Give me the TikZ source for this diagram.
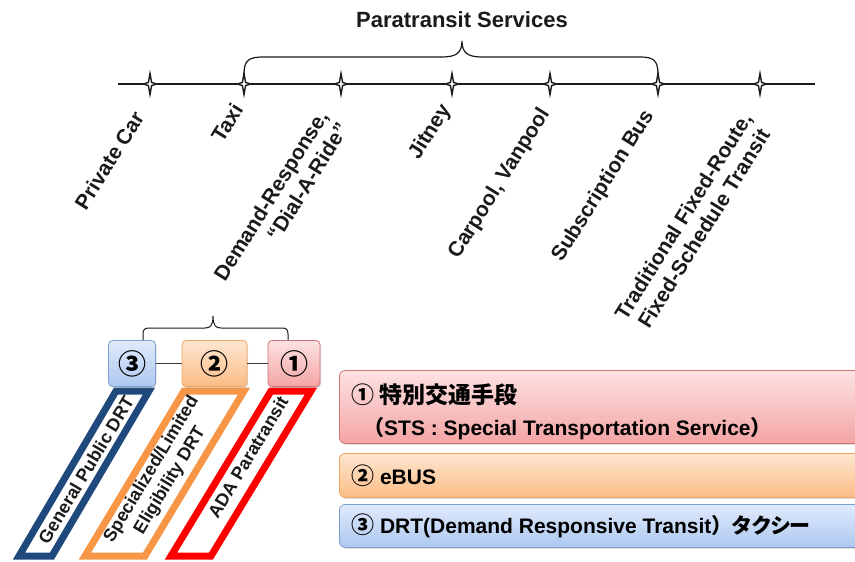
\documentclass[tikz,border=0pt]{standalone}
\usepackage{fontspec}
\setmainfont{Liberation Sans}
\newfontfamily\cjk{Noto Sans CJK JP}
\newfontfamily\cjkp[RawFeature=+palt]{Noto Sans CJK JP}
\usetikzlibrary{shadows,calc}
\definecolor{navy}{HTML}{1F497D}
\definecolor{orng}{HTML}{F79646}
\definecolor{redd}{HTML}{FF0000}
\definecolor{ink}{HTML}{1A1A1A}
\definecolor{pinkT}{HTML}{FDE2E2}
\definecolor{pinkB}{HTML}{F4A4A4}
\definecolor{pinkD}{HTML}{D07275}
\definecolor{oraT}{HTML}{FEE6D0}
\definecolor{oraB}{HTML}{FBBD86}
\definecolor{oraD}{HTML}{F3A45E}
\definecolor{bluT}{HTML}{E0EAFB}
\definecolor{bluB}{HTML}{ADC8F0}
\definecolor{bluD}{HTML}{7E9FD2}
\begin{document}
\begin{tikzpicture}[x=1pt,y=-1pt,
  lbl/.style={font=\bfseries\fontsize{21}{24}\selectfont, rotate=58, anchor=north east, inner sep=0pt, text=ink},
  plbl/.style={font=\bfseries\fontsize{18}{21.5}\selectfont, rotate=59, inner sep=0pt, text=ink, align=center},
  sbox/.style={rounded corners=4pt, minimum height=46pt, inner sep=0pt, line width=0.8pt,
     font=\cjk\bfseries\fontsize{28}{28}\selectfont, drop shadow={opacity=0.25, shadow xshift=1pt, shadow yshift=-1.5pt}},
  rbox/.style={rounded corners=6pt, anchor=north west, minimum width=545pt, inner sep=0pt, line width=0.8pt,
     drop shadow={opacity=0.25, shadow xshift=1pt, shadow yshift=-1.5pt}},
  rtxt/.style={anchor=west, inner sep=0pt, font=\bfseries\fontsize{21}{24}\selectfont, text=black},
  pinkfill/.style={top color=pinkT, bottom color=pinkB, draw=pinkD},
  orafill/.style={top color=oraT, bottom color=oraB, draw=oraD},
  blufill/.style={top color=bluT, bottom color=bluB, draw=bluD},
  para/.style={line width=7pt, line join=miter},
  tline/.style={line width=1.4pt, draw=ink}]
\useasboundingbox (0,0) rectangle (855,562);
\fill[white] (0,0) rectangle (855,562);
\clip (0,0) rectangle (855,562);

% ---------- title and timeline ----------
\node[font=\bfseries\fontsize{22}{26}\selectfont, text=ink] (title) at (462,20) {Paratransit Services};
\coordinate (L) at (118,84);
\coordinate (R) at (815,84);
\draw[tline] (L) -- (R);
\foreach \n/\x in {t1/150,t2/244,t3/341,t4/452,t5/550,t6/658,t7/760}{
  \coordinate (\n) at (\x,84);
  \draw[ink, fill=white, line width=1.4pt, line join=miter] (\n) ++(0,-10.5) -- ++(1.6,8.9) -- ++(5,1.6) -- ++(-5,1.6)
     -- ++(-1.6,8.9) -- ++(-1.6,-8.9) -- ++(-5,-1.6) -- ++(5,-1.6) -- cycle;
}
% brace over paratransit
\coordinate (bt) at (462,41);
\draw[tline, line width=1.2pt] ($(t2)+(0,-10)$) .. controls (244,60) and (249,57) .. (264,57) -- (442,57)
   .. controls (456,57) and (462,53) .. (bt) .. controls (462,53) and (468,57) .. (482,57) -- (640,57)
   .. controls (653,57) and (658,60) .. ($(t6)+(0,-10)$);

% labels
\node[lbl] (l1) at (132,109) {Private Car};
\node[lbl] (l2) at (231,101) {Taxi};
\node[lbl, align=right] (l3) at (316,108) {Demand-Response,\\“Dial-A-Ride”};
\node[lbl] (l4) at (438,101) {Jitney};
\node[lbl] (l5) at (537,105) {Carpool, Vanpool};
\node[lbl] (l6) at (641,107) {Subscription Bus};
\node[lbl, align=center] (l7) at (740,110) {Traditional Fixed-Route,\\Fixed-Schedule Transit};

% ---------- bottom-left: three DRT categories ----------
\draw[navy, para] (116,391) -- (149,391) -- (52,556) -- (19,556) -- cycle;
\draw[orng, para] (184,391) -- (244,391) -- (145,556) -- (85,556) -- cycle;
\draw[redd, para] (271,391) -- (311,391) -- (211,556) -- (171,556) -- cycle;

\node[sbox, blufill, minimum width=47pt] (b3) at (132,363.5) {③};
\node[sbox, orafill, minimum width=65pt] (b2) at (214.5,363.5) {②};
\node[sbox, pinkfill, minimum width=52pt] (b1) at (294,363.5) {①};
\draw[ink!85, line width=0.9pt] (b3) -- (b2);
\draw[ink!85, line width=0.9pt] (b2) -- (b1);

\coordinate (cbt) at (213,316);
\draw[ink, line width=1pt] (143,340) -- (143,334) .. controls (143,329) and (145,328) .. (150,328) -- (205,328)
   .. controls (210,328) and (213,326) .. (cbt) .. controls (213,326) and (216,328) .. (221,328) -- (281,328)
   .. controls (286,328) and (288,329) .. (288,334) -- (288,340);

\node[plbl] (p3) at (86,470) {General Public DRT};
\node[plbl] (p2) at (161,475) {Specialized/Limited\\Eligibility DRT};
\node[plbl] (p1) at (248,457) {ADA Paratransit};

% ---------- right: legend boxes ----------
\node[rbox, pinkfill, minimum height=73pt] (r1) at (339,370) {};
\node[rbox, orafill, minimum height=44pt] (r2) at (339,453) {};
\node[rbox, blufill, minimum height=43pt] (r3) at (339,504) {};

\node[rtxt] (r1a) at (351,395) {{\cjk\fontsize{23}{26}\selectfont ① 特別交通手段}};
\node[rtxt] (r1b) at (363,429) {{\cjk （}STS : Special Transportation Service{\cjk ）}};
\node[rtxt] (r2a) at (351,476) {{\cjk\fontsize{23}{26}\selectfont ②} eBUS};
\node[rtxt] (r3a) at (351,526) {{\cjk\fontsize{23}{26}\selectfont ③} DRT(Demand Responsive Transit{\cjk ）}{\cjkp タクシー}};
\end{tikzpicture}
\end{document}
